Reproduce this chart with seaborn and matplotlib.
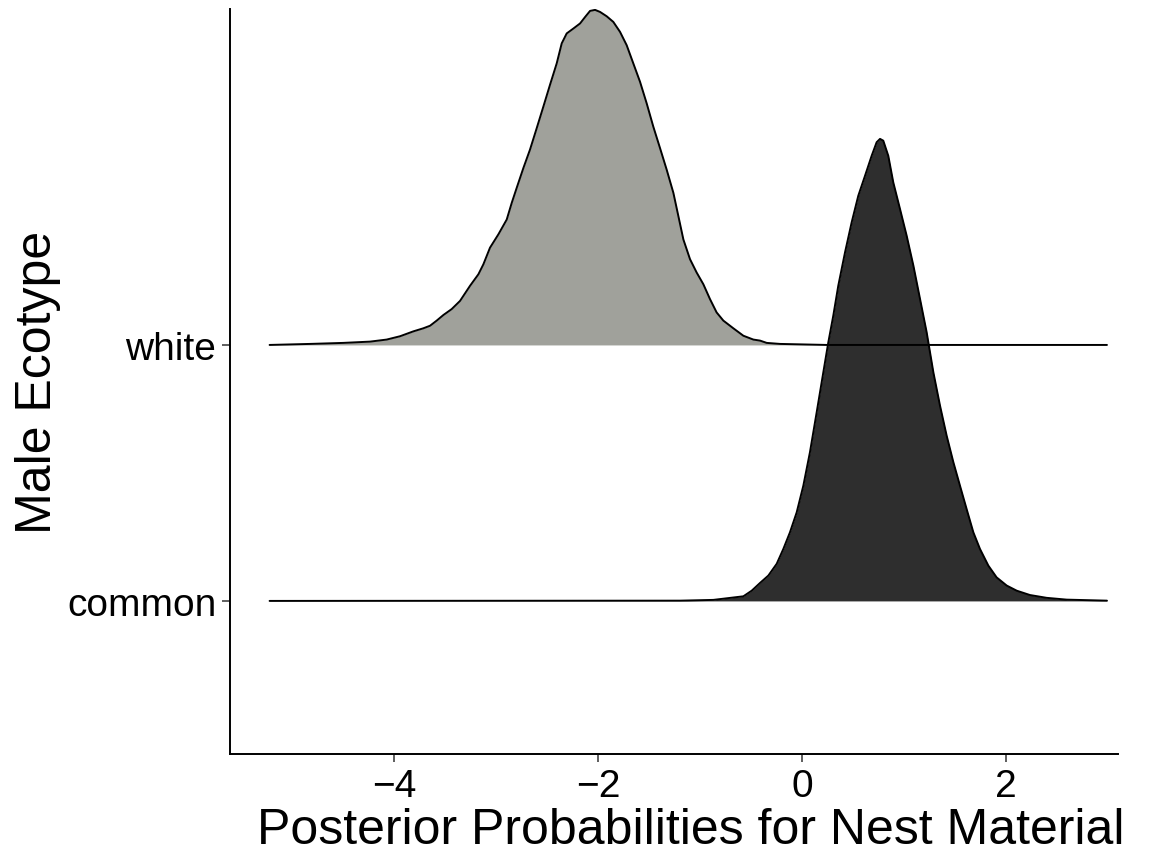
import numpy as np
import pandas as pd
import matplotlib
matplotlib.use("Agg")
import matplotlib.pyplot as plt
import seaborn as sns

# ---- data (ridge heights in units of row spacing) ----
categories = ["common", "white"]

white_x = [-5.22, -4.824, -4.497, -4.235, -4.072, -3.941, -3.811, -3.713, -3.647, -3.582,
           -3.516, -3.435, -3.353, -3.255, -3.173, -3.124, -3.059, -2.977, -2.895, -2.846,
           -2.797, -2.732, -2.667, -2.601, -2.536, -2.471, -2.405, -2.356, -2.307, -2.242,
           -2.176, -2.127, -2.078, -2.029, -1.980, -1.915, -1.850, -1.784, -1.719, -1.654,
           -1.588, -1.523, -1.458, -1.392, -1.327, -1.261, -1.212, -1.163, -1.098, -1.033,
           -0.967, -0.902, -0.837, -0.771, -0.673, -0.575, -0.477, -0.412, -0.346, -0.216,
           0.242, 2.99]
white_h = [0.0, 0.004, 0.008, 0.013, 0.021, 0.034, 0.053, 0.065, 0.075, 0.095,
           0.117, 0.140, 0.172, 0.231, 0.276, 0.315, 0.380, 0.432, 0.490, 0.555,
           0.614, 0.691, 0.763, 0.847, 0.931, 1.016, 1.100, 1.178, 1.217, 1.236,
           1.256, 1.281, 1.305, 1.309, 1.301, 1.284, 1.262, 1.223, 1.171, 1.100,
           1.028, 0.944, 0.853, 0.769, 0.685, 0.594, 0.503, 0.412, 0.335, 0.283,
           0.237, 0.179, 0.127, 0.095, 0.065, 0.036, 0.021, 0.017, 0.008, 0.004,
           0.0, 0.0]

common_x = [-5.22, -1.196, -0.869, -0.575, -0.493, -0.412, -0.330, -0.248, -0.183, -0.118,
            -0.052, 0.013, 0.078, 0.144, 0.209, 0.258, 0.307, 0.356, 0.422, 0.487,
            0.552, 0.618, 0.683, 0.732, 0.765, 0.797, 0.846, 0.895, 0.961, 1.026,
            1.092, 1.157, 1.222, 1.288, 1.353, 1.418, 1.484, 1.549, 1.614, 1.680,
            1.745, 1.827, 1.908, 2.007, 2.105, 2.235, 2.399, 2.595, 2.99]
common_h = [0.0, 0.001, 0.004, 0.018, 0.040, 0.070, 0.099, 0.145, 0.203, 0.268,
            0.346, 0.450, 0.581, 0.737, 0.893, 1.010, 1.115, 1.232, 1.362, 1.479,
            1.583, 1.661, 1.739, 1.792, 1.805, 1.798, 1.739, 1.635, 1.531, 1.427,
            1.310, 1.180, 1.050, 0.893, 0.763, 0.646, 0.542, 0.450, 0.359, 0.268,
            0.203, 0.138, 0.092, 0.060, 0.040, 0.023, 0.012, 0.005, 0.001]

fill_colors = {"white": "#A0A19B", "common": "#2E2E2E"}
x_ticks = [-4, -2, 0, 2]
x_label = "Posterior Probabilities for Nest Material"
y_label = "Male Ecotype"

# ---- build long table ----
rows = []
for cat, xs, hs in [("white", white_x, white_h), ("common", common_x, common_h)]:
    base = categories.index(cat) + 1
    for x, h in zip(xs, hs):
        rows.append({"ecotype": cat, "x": x, "base": base, "y": base + h})
df = pd.DataFrame(rows)

sns.set_theme(style="ticks")
plt.rcParams["font.family"] = ["Liberation Sans", "DejaVu Sans"]

fig = plt.figure(figsize=(11.49, 8.53), dpi=100)
ax = fig.add_axes([0.2002, 0.1149, 0.7728, 0.8734])

# fills first, then outlines on top
for cat in ["white", "common"]:
    d = df[df.ecotype == cat]
    ax.fill_between(d["x"], d["base"], d["y"], color=fill_colors[cat],
                    linewidth=0, zorder=1)
for cat in ["white", "common"]:
    d = df[df.ecotype == cat]
    sns.lineplot(data=d, x="x", y="y", ax=ax, color="black", linewidth=1.4,
                 estimator=None, sort=False, zorder=3)

ax.set_xlim(-5.608, 3.098)
ax.set_ylim(0.402, 3.3125)
ax.set_xticks(x_ticks)
ax.set_xticklabels(["\u2212" + str(abs(t)) if t < 0 else str(t) for t in x_ticks])
ax.set_yticks([1, 2])
ax.set_yticklabels(categories)

ax.set_xlabel(x_label, fontsize=36, labelpad=2, color="black")
ax.xaxis.label.set_x(0.519)
ax.set_ylabel(y_label, fontsize=36, labelpad=4, color="black")
ax.tick_params(axis="both", labelsize=28, length=6, width=1.1,
               color="#333333", labelcolor="black", pad=4)

for s in ["top", "right"]:
    ax.spines[s].set_visible(False)
for s in ["left", "bottom"]:
    ax.spines[s].set_linewidth(1.4)
    ax.spines[s].set_color("black")

fig.savefig("out.png", dpi=100)
